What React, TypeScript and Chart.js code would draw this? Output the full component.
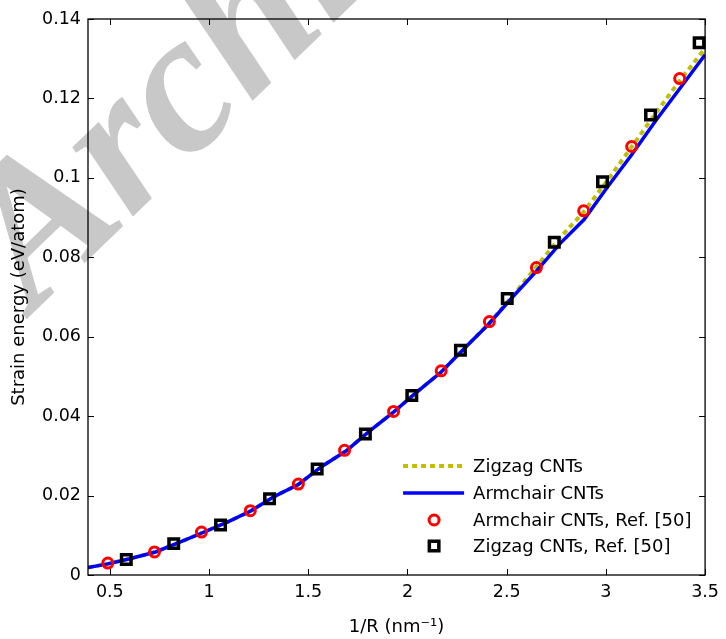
import React, { useEffect, useRef } from 'react';
import { Chart, registerables } from 'chart.js';

Chart.register(...registerables);

// Axis ticks
const xTicks = [0.5, 1, 1.5, 2, 2.5, 3, 3.5];
const xTickLabels = ['0.5', '1', '1.5', '2', '2.5', '3', '3.5'];
const yTicks = [0, 0.02, 0.04, 0.06, 0.08, 0.1, 0.12, 0.14];
const yTickLabels = ['0', '0.02', '0.04', '0.06', '0.08', '0.1', '0.12', '0.14'];

// Model curves (1/R in nm^-1)
const curveX = [0.39, 0.49, 0.6, 0.73, 0.85, 0.97, 1.1, 1.21, 1.33, 1.45, 1.57, 1.69, 1.81, 1.93, 2.05, 2.17, 2.29, 2.41, 2.53, 2.65, 2.77, 2.89, 3.01, 3.13, 3.25, 3.37, 3.5];
const armchairY = [0.0019, 0.0028, 0.0041, 0.0058, 0.0082, 0.0107, 0.0135, 0.0161, 0.0198, 0.0228, 0.0274, 0.0312, 0.0363, 0.041, 0.0462, 0.0511, 0.0572, 0.0632, 0.07, 0.0765, 0.0835, 0.0895, 0.0978, 0.1058, 0.1143, 0.1223, 0.131];
const zigzagY = [0.0019, 0.0028, 0.0041, 0.0058, 0.0082, 0.0107, 0.0135, 0.0161, 0.0198, 0.0228, 0.0274, 0.0312, 0.0363, 0.041, 0.0462, 0.0511, 0.0572, 0.0633, 0.0703, 0.0776, 0.085, 0.0915, 0.0995, 0.1078, 0.1162, 0.1243, 0.1326];

// Reference data, Ref. [50]
const armRefX = [0.49, 0.725, 0.962, 1.208, 1.45, 1.683, 1.93, 2.17, 2.413, 2.65, 2.888, 3.13, 3.372];
const armRefY = [0.003, 0.0058, 0.0108, 0.0162, 0.0229, 0.0314, 0.0412, 0.0514, 0.0638, 0.0774, 0.0917, 0.1079, 0.125];
const zigRefX = [0.583, 0.822, 1.058, 1.305, 1.545, 1.788, 2.022, 2.267, 2.503, 2.74, 2.983, 3.225, 3.47];
const zigRefY = [0.0039, 0.0079, 0.0126, 0.0192, 0.0267, 0.0355, 0.0452, 0.0566, 0.0696, 0.0838, 0.099, 0.1158, 0.134];

const legendLabels = ['Zigzag CNTs', 'Armchair CNTs', 'Armchair CNTs, Ref. [50]', 'Zigzag CNTs, Ref. [50]'];
const watermarkText = 'Archive of SID';

const FONT = '"DejaVu Sans", "Liberation Sans", sans-serif';
const OLIVE = '#bfbf00';

const pts = (xs: number[], ys: number[]) => xs.map((x, i) => ({ x, y: ys[i] }));

export default function App() {
  const ref = useRef<HTMLCanvasElement>(null);

  useEffect(() => {
    document.body.style.margin = '0';
    const canvas = ref.current!;

    const watermark = {
      id: 'watermark',
      beforeDraw(chart: any) {
        const c = chart.ctx;
        c.save();
        c.translate(34, 312);
        c.rotate((-44 * Math.PI) / 180);
        c.font = 'italic bold 200px "Liberation Serif", serif';
        c.fillStyle = '#c8c8c8';
        c.textBaseline = 'alphabetic';
        c.fillText(watermarkText, 0, 0);
        c.restore();
      },
    };

    const frame = {
      id: 'frame',
      afterDraw(chart: any) {
        const c = chart.ctx;
        const { left, right, top, bottom } = chart.chartArea;
        const xs = chart.scales.x;
        const ys = chart.scales.y;
        c.save();
        c.strokeStyle = '#000';
        c.lineWidth = 1.3;
        c.strokeRect(left, top, right - left, bottom - top);
        c.lineWidth = 1;
        const tl = 6;
        c.beginPath();
        xTicks.forEach((v) => {
          const px = Math.round(xs.getPixelForValue(v)) + 0.5;
          c.moveTo(px, bottom);
          c.lineTo(px, bottom - tl);
          c.moveTo(px, top);
          c.lineTo(px, top + tl);
        });
        yTicks.forEach((v) => {
          const py = Math.round(ys.getPixelForValue(v)) + 0.5;
          c.moveTo(left, py);
          c.lineTo(left + tl, py);
          c.moveTo(right, py);
          c.lineTo(right - tl, py);
        });
        c.stroke();

        // legend
        const lx0 = right - 302;
        const lx1 = right - 241;
        const mx = right - 271;
        const tx = right - 232;
        const rows = [bottom - 109, bottom - 82, bottom - 55, bottom - 29];
        c.font = `18px ${FONT}`;
        c.fillStyle = '#000';
        c.textAlign = 'left';
        c.textBaseline = 'middle';

        c.strokeStyle = OLIVE;
        c.lineWidth = 4;
        c.setLineDash([5, 4]);
        c.beginPath();
        c.moveTo(lx0, rows[0]);
        c.lineTo(lx1, rows[0]);
        c.stroke();
        c.setLineDash([]);

        c.strokeStyle = '#0000ff';
        c.lineWidth = 3.5;
        c.beginPath();
        c.moveTo(lx0, rows[1]);
        c.lineTo(lx1, rows[1]);
        c.stroke();

        c.strokeStyle = '#ff0000';
        c.lineWidth = 3;
        c.beginPath();
        c.arc(mx, rows[2], 5, 0, Math.PI * 2);
        c.stroke();

        c.strokeStyle = '#000';
        c.lineWidth = 3.5;
        c.strokeRect(mx - 4.75, rows[3] - 4.75, 9.5, 9.5);

        legendLabels.forEach((t, i) => c.fillText(t, tx, rows[i] + 1));
        c.restore();
      },
    };

    const chart = new Chart(canvas, {
      type: 'line',
      data: {
        datasets: [
          {
            label: legendLabels[0],
            data: pts(curveX, zigzagY),
            borderColor: OLIVE,
            borderWidth: 4,
            borderDash: [5, 4],
            pointRadius: 0,
            tension: 0,
            fill: false,
            order: 4,
          },
          {
            label: legendLabels[1],
            data: pts(curveX, armchairY),
            borderColor: '#0000ff',
            borderWidth: 3.5,
            pointRadius: 0,
            tension: 0,
            fill: false,
            order: 3,
          },
          {
            label: legendLabels[2],
            data: pts(armRefX, armRefY),
            showLine: false,
            pointStyle: 'circle',
            pointRadius: 5,
            pointBorderWidth: 3,
            pointBorderColor: '#ff0000',
            pointBackgroundColor: 'rgba(0,0,0,0)',
            borderColor: '#ff0000',
            clip: false,
            order: 2,
          },
          {
            label: legendLabels[3],
            data: pts(zigRefX, zigRefY),
            showLine: false,
            pointStyle: 'rect',
            pointRadius: 6.7,
            pointBorderWidth: 3.5,
            pointBorderColor: '#000000',
            pointBackgroundColor: 'rgba(0,0,0,0)',
            borderColor: '#000000',
            clip: false,
            order: 1,
          },
        ] as any,
      },
      options: {
        responsive: false,
        animation: false,
        events: [],
        layout: { padding: { top: 19, right: 17, left: 0, bottom: 0 } },
        plugins: { legend: { display: false }, tooltip: { enabled: false } },
        scales: {
          x: {
            type: 'linear',
            min: 0.39,
            max: 3.5,
            afterBuildTicks: (s: any) => {
              s.ticks = xTicks.map((v) => ({ value: v }));
            },
            afterFit: (s: any) => {
              s.height = 64;
            },
            grid: { display: false, drawTicks: false },
            border: { display: false },
            ticks: {
              padding: 7,
              color: '#000',
              font: { family: FONT, size: 17.5 },
              maxRotation: 0,
              autoSkip: false,
              callback: (v: any) => {
                const i = xTicks.findIndex((t) => Math.abs(t - Number(v)) < 1e-9);
                return i >= 0 ? xTickLabels[i] : '';
              },
            },
            title: {
              display: true,
              text: '1/R (nm⁻¹)',
              color: '#000',
              font: { family: FONT, size: 18 },
              padding: { top: 0, bottom: 1 },
            },
          },
          y: {
            type: 'linear',
            min: 0,
            max: 0.14,
            afterBuildTicks: (s: any) => {
              s.ticks = yTicks.map((v) => ({ value: v }));
            },
            afterFit: (s: any) => {
              s.width = 88;
            },
            grid: { display: false, drawTicks: false },
            border: { display: false },
            ticks: {
              padding: 7,
              color: '#000',
              font: { family: FONT, size: 17.5 },
              autoSkip: false,
              callback: (v: any) => {
                const i = yTicks.findIndex((t) => Math.abs(t - Number(v)) < 1e-9);
                return i >= 0 ? yTickLabels[i] : '';
              },
            },
            title: {
              display: true,
              text: 'Strain energy (eV/atom)',
              color: '#000',
              font: { family: FONT, size: 18 },
              padding: { top: 9, bottom: 0 },
            },
          },
        },
      } as any,
      plugins: [watermark, frame],
    });

    return () => chart.destroy();
  }, []);

  return (
    <div style={{ width: 726, height: 639, background: '#fff' }}>
      <canvas ref={ref} width={726} height={639} style={{ display: 'block' }} />
    </div>
  );
}
